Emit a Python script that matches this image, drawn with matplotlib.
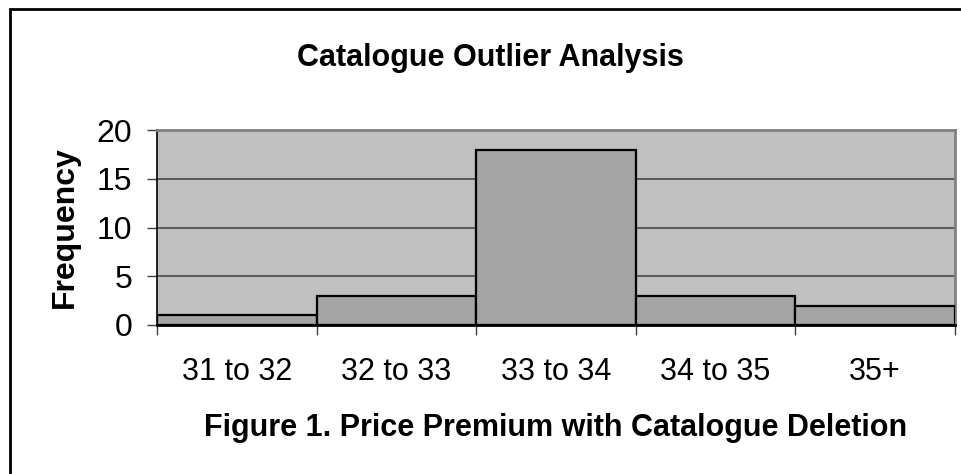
import matplotlib
matplotlib.use("Agg")
import matplotlib.pyplot as plt
from matplotlib.patches import Rectangle
import numpy as np

categories = ["31 to 32", "32 to 33", "33 to 34", "34 to 35", "35+"]
frequency = [1, 3, 18, 3, 2]
y_ticks = [0, 5, 10, 15, 20]

plt.rcParams['font.family'] = ['Liberation Sans', 'DejaVu Sans']

fig = plt.figure(figsize=(9.61, 4.74), dpi=100)
ax = fig.add_axes([157/961, 1 - 325/474, (955 - 157)/961, (325 - 130)/474])
ax.set_facecolor('#C0C0C0')

x = np.arange(len(categories))
ax.bar(x, frequency, width=1.0, color='#A4A4A4', edgecolor='black', linewidth=1.6, zorder=3)

ax.set_xlim(-0.5, len(categories) - 0.5)
ax.set_ylim(0, 20)
ax.set_yticks(y_ticks)
ax.set_yticklabels([str(v) for v in y_ticks], fontsize=23)
ax.set_xticks(x)
ax.set_xticklabels(categories, fontsize=22)
ax.set_xticks(np.arange(len(categories) + 1) - 0.5, minor=True)
ax.tick_params(axis='x', which='major', length=0, pad=23)
ax.tick_params(axis='x', which='minor', length=7, width=1, color='#404040')
ax.tick_params(axis='y', length=7, width=1, pad=11, color='#404040')

ax.yaxis.grid(True, color='#4a4a4a', linewidth=1.2, zorder=1)
ax.set_axisbelow(True)

ax.spines['left'].set_color('black')
ax.spines['left'].set_linewidth(1.2)
ax.spines['bottom'].set_color('black')
ax.spines['bottom'].set_linewidth(2)
ax.spines['bottom'].set_zorder(4)
ax.spines['top'].set_color('#808080')
ax.spines['top'].set_linewidth(2)
ax.spines['right'].set_color('#808080')
ax.spines['right'].set_linewidth(2)

ax.set_ylabel('Frequency', fontsize=23, fontweight='bold', labelpad=12)
ax.set_xlabel('Figure 1. Price Premium with Catalogue Deletion', fontsize=22,
              fontweight='bold', labelpad=19)
fig.text(490/961, 1 - 58/474, 'Catalogue Outlier Analysis', fontsize=22,
         fontweight='bold', ha='center', va='center')

# outer chart border
fig.patches.append(Rectangle((10/961, -0.05), 1.1, 1 - 9/474 + 0.05,
                             transform=fig.transFigure, fill=False,
                             edgecolor='black', linewidth=2))

fig.savefig('out.png', dpi=100)
